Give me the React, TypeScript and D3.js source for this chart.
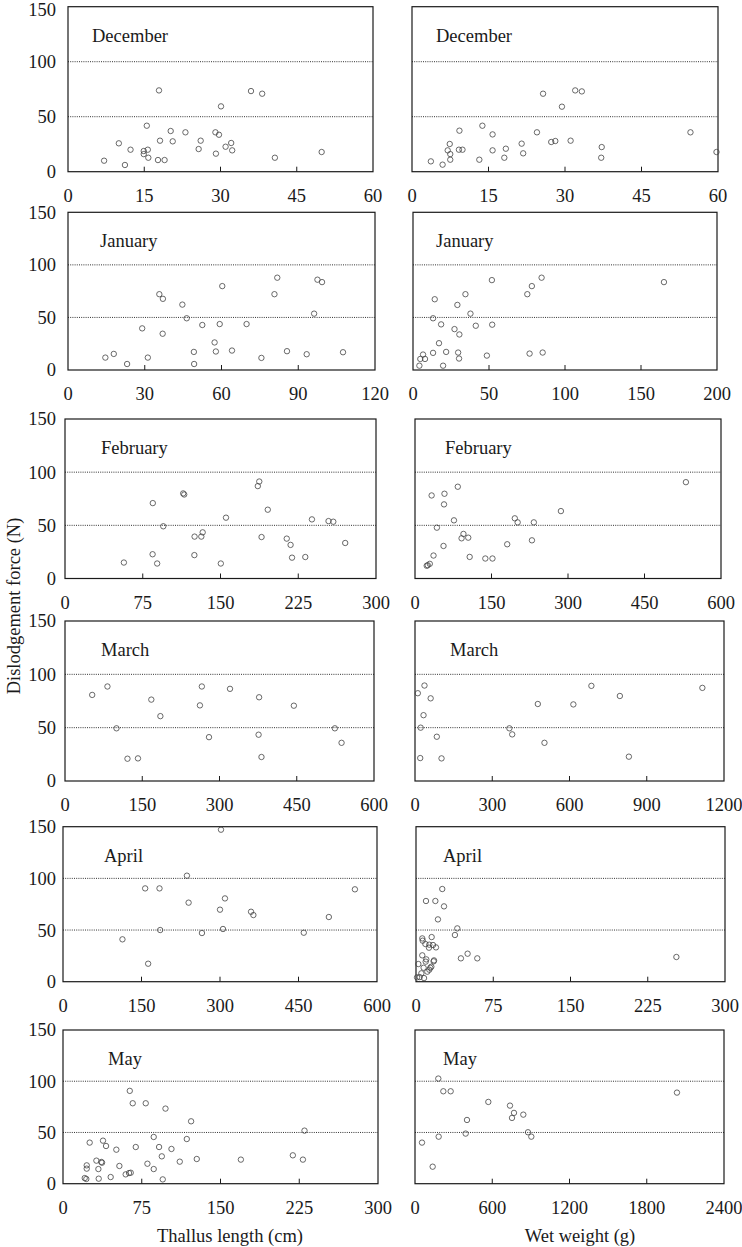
import * as d3 from 'd3';

type Pt = [number, number];

// ---- data (x value, dislodgement force N) ----
const decLength: Pt[] = [
  [7.1, 10], [10, 25.8], [11.2, 6.1], [12.3, 20], [14.9, 18.8], [14.9, 16], [15.5, 41.8],
  [15.7, 20], [15.8, 12.7], [17.7, 10.6], [17.9, 73.9], [18.1, 28.2], [19, 10.6], [20.2, 37],
  [20.6, 27.6], [23.1, 35.8], [25.7, 20.6], [26.1, 28.2], [29, 35.8], [29.1, 16.4], [29.7, 33.6],
  [30.1, 59.4], [31, 22.7], [32.1, 26.1], [32.3, 19.4], [36, 73.3], [38.2, 70.9], [40.7, 12.7],
  [49.9, 17.9],
];
const decWeight: Pt[] = [
  [3.7, 9.4], [6, 6.4], [7, 19.4], [7.4, 25.2], [7.5, 16], [7.5, 10.9], [9.3, 37.3], [9.2, 20],
  [9.9, 20], [13.2, 10.9], [13.8, 41.8], [15.8, 33.9], [15.8, 19.4], [18.1, 12.7], [18.4, 20.9],
  [21.5, 25.5], [21.8, 16.7], [24.5, 35.8], [25.7, 70.9], [27.3, 27], [28.1, 27.9], [29.4, 59.1],
  [31.1, 28.2], [32, 73.9], [33.3, 73], [37.2, 22.4], [37.1, 12.7], [54.6, 35.8], [59.7, 17.9],
];
const janLength: Pt[] = [
  [14.6, 11.8], [17.9, 15.3], [23.1, 5.7], [29, 39.6], [31.2, 11.8], [35.7, 72.1], [37.1, 67.7],
  [37, 34.5], [44.7, 62.2], [46.4, 49.2], [49.2, 17.2], [49.3, 5.7], [52.5, 42.8], [57.3, 26.2],
  [57.8, 17.6], [59.3, 43.7], [60.3, 79.8], [64.1, 18.5], [69.8, 43.7], [75.6, 11.5], [80.7, 72.1],
  [81.8, 87.8], [85.6, 17.9], [93.3, 15], [96.2, 53.6], [97.5, 85.9], [99.3, 83.6], [107.5, 16.9],
];
const janWeight: Pt[] = [
  [4.2, 4.1], [4.8, 10.5], [6.6, 14.7], [7.9, 10.5], [13.2, 16.3], [13.2, 49.2], [14.3, 67.3],
  [17.1, 25.5], [18.5, 43.4], [19.8, 4.1], [21.8, 17.2], [27.3, 38.9], [29.2, 61.9], [29.7, 16.6],
  [30.5, 33.8], [30.3, 10.9], [34.5, 72.1], [37.8, 53.6], [41.3, 42.1], [48.6, 13.7], [51.9, 85.5],
  [52.1, 43.1], [75.2, 72.1], [76.7, 15.6], [78.2, 79.8], [84.6, 87.8], [85.3, 16.6], [165.1, 83.6],
];
const febLength: Pt[] = [
  [56.8, 15], [84.7, 70.9], [84.5, 22.8], [88.9, 14.1], [94.8, 49.1], [114, 80], [115, 79],
  [124.8, 22], [125, 39.4], [131.5, 39.4], [132.8, 43.4], [150.3, 14.1], [155.3, 57.2], [186, 86.9],
  [187.4, 91.2], [189.6, 39], [195.6, 64.7], [213.9, 37.5], [217.6, 31.6], [219, 19.6],
  [231.8, 20.2], [238.2, 55.6], [254.2, 54], [258.8, 53.4], [270.3, 33.4],
];
const febWeight: Pt[] = [
  [23, 12], [25, 12.5], [29, 13.8], [32.6, 78.1], [36.3, 21.6], [42.9, 47.8], [55.9, 30.6],
  [56.9, 69.7], [57.8, 79.7], [76.4, 54.7], [83.9, 86.3], [91.3, 37.8], [95, 41.9], [104.4, 38.4],
  [107.2, 20.3], [137.9, 18.8], [151.9, 18.8], [180.8, 32.2], [195.7, 56.6], [201.3, 52.8],
  [229.3, 35.9], [233, 52.8], [286.1, 63.4], [531.2, 90.6],
];
const marLength: Pt[] = [
  [52.8, 80.7], [82.4, 88.6], [100, 49.4], [121.3, 20.9], [141.7, 21.2], [167.6, 76.3],
  [185.2, 60.8], [262, 70.9], [265.7, 88.6], [279.6, 41.1], [320.4, 86.4], [375.9, 43.4],
  [376.9, 78.5], [381.5, 22.5], [444.4, 70.6], [524, 49.4], [537, 35.8],
];
const marWeight: Pt[] = [
  [11, 82.3], [20.3, 21.5], [22, 50], [33.1, 61.7], [36.8, 89.5], [60.8, 77.5], [84.7, 41.5],
  [103, 21.2], [366.5, 49.4], [377.5, 43.7], [477, 72.2], [502.8, 35.8], [615, 71.8],
  [685, 89.2], [795.6, 79.7], [830.6, 22.8], [1116, 87.3],
];
const aprLength: Pt[] = [
  [113.6, 41], [157, 90.3], [162.7, 17.4], [184.4, 90.3], [185.7, 50], [236.8, 102.6],
  [240, 76.5], [265.5, 47.1], [300, 69.7], [301.9, 147.1], [305.7, 51], [309.5, 80.6],
  [359.3, 67.7], [363.8, 64.5], [460.1, 47.4], [508, 62.6], [557.8, 89.4],
];
const aprWeight: Pt[] = [
  [25.5, 89.7], [9.7, 78.1], [18.8, 78.1], [27.2, 72.9], [21.3, 60.3], [40.1, 51.6], [37.8, 45.2],
  [15.2, 43.2], [6.1, 41.9], [6.5, 39.7], [9.1, 36.5], [12.9, 35.8], [16.5, 35.5], [19.4, 33.2],
  [12.6, 32.9], [43.6, 22.6], [50.1, 27.1], [59.5, 22.6], [252.8, 23.9], [6.1, 25.5], [10, 21.6],
  [9.4, 19.4], [17.5, 20.6], [17.1, 19.7], [2.3, 17.1], [7.4, 13.5], [13.9, 13.5], [14.9, 14.5],
  [11, 9.7], [5.2, 8.1], [1, 4.2], [3.6, 4.5], [7.8, 3.5], [12.9, 11.6],
];
const mayLength: Pt[] = [
  [63.6, 90.6], [66.4, 78.5], [78.8, 78.5], [97.6, 73.3], [122, 60.9], [230, 51.8], [25.4, 40.1],
  [38.1, 42], [41, 36.8], [50.8, 33.2], [69.3, 35.8], [86.4, 45.6], [91.5, 35.8], [103.3, 33.9],
  [117.9, 43.6], [94.1, 26.7], [111.2, 21.5], [127.4, 24.1], [169.4, 23.5], [218.9, 27.7],
  [228.5, 23.5], [31.8, 22.5], [36.5, 21.2], [37.2, 20.5], [22.6, 17.9], [22.6, 14.7],
  [33.7, 14.3], [53.7, 17.3], [80.4, 19.5], [86.4, 14.3], [59.7, 9.1], [62.9, 10.4], [64.5, 10.7],
  [45.4, 6.5], [20.7, 5.5], [22.2, 4.6], [34, 4.9], [95, 4.2],
];
const mayWeight: Pt[] = [
  [181, 102.6], [220, 90.2], [277, 90.2], [569.5, 79.8], [737.8, 76.2], [768.8, 69.1],
  [753.3, 64.2], [841.3, 67.4], [403.8, 62.2], [183.8, 45.9], [393.5, 48.9], [877.6, 50.2],
  [903.4, 45.9], [54.4, 40.1], [137.2, 16.6], [2034.7, 88.9],
];

const months = ['December', 'January', 'February', 'March', 'April', 'May'];
const lengthData = [decLength, janLength, febLength, marLength, aprLength, mayLength];
const weightData = [decWeight, janWeight, febWeight, marWeight, aprWeight, mayWeight];
const lengthTicks = [
  [0, 15, 30, 45, 60], [0, 30, 60, 90, 120], [0, 75, 150, 225, 300],
  [0, 150, 300, 450, 600], [0, 150, 300, 450, 600], [0, 75, 150, 225, 300],
];
const weightTicks = [
  [0, 15, 30, 45, 60], [0, 50, 100, 150, 200], [0, 150, 300, 450, 600],
  [0, 300, 600, 900, 1200], [0, 75, 150, 225, 300], [0, 600, 1200, 1800, 2400],
];
const forceTicks = [0, 50, 100, 150];
const gridValues = [50, 100];

// ---- layout (pixels) ----
const rowTop = [6.7, 212.3, 419, 621, 826.7, 1030];
const rowBottom = [171.7, 370, 578.5, 781, 981.7, 1183.7];
const leftX = [[68, 373], [68, 375], [65, 376], [65, 374], [63, 377], [63, 378]];
const rightX = [[412, 718], [413, 717], [415, 721], [415, 724], [416, 725], [415, 724]];
const labelLeftX = [92, 100, 101, 101, 104, 108];
const labelRightX = [436, 436, 445, 450, 443, 443];

const font = '"Liberation Serif", "Times New Roman", serif';
const ink = '#1a1a1a';

interface PanelProps {
  x0: number; x1: number; top: number; bottom: number;
  ticks: number[]; data: Pt[]; label: string; labelX: number; showY: boolean;
}

function Panel({ x0, x1, top, bottom, ticks, data, label, labelX, showY }: PanelProps) {
  const xMax = ticks[ticks.length - 1];
  const x = d3.scaleLinear().domain([0, xMax]).range([x0, x1]);
  const y = d3.scaleLinear().domain([0, 150]).range([bottom, top]);
  return (
    <g>
      {gridValues.map(v => (
        <line key={v} x1={x0} x2={x1} y1={y(v)} y2={y(v)}
          stroke="#333" strokeWidth={1} strokeDasharray="1,1.2" />
      ))}
      <rect x={x0} y={top} width={x1 - x0} height={bottom - top}
        fill="none" stroke={ink} strokeWidth={1.2} />
      {ticks.slice(1, -1).map(t => (
        <line key={t} x1={x(t)} x2={x(t)} y1={bottom} y2={bottom - 5}
          stroke={ink} strokeWidth={1} />
      ))}
      {ticks.map(t => (
        <text key={t} x={x(t)} y={bottom + 30} textAnchor="middle"
          fontFamily={font} fontSize={18.5} fill={ink}>{t}</text>
      ))}
      {showY && forceTicks.map(t => (
        <text key={t} x={56} y={Math.max(y(t), 10)} dy="0.35em" textAnchor="end"
          fontFamily={font} fontSize={18.5} fill={ink}>{t}</text>
      ))}
      <text x={labelX} y={top + 35} fontFamily={font} fontSize={18.5} fill={ink}>{label}</text>
      {data.map((d, i) => (
        <circle key={i} cx={x(d[0])} cy={y(d[1])} r={2.7}
          fill="none" stroke="#444" strokeWidth={0.8} />
      ))}
    </g>
  );
}

export default function App() {
  return (
    <svg width={742} height={1247} style={{ position: 'absolute', left: 0, top: 0, background: '#fff' }}>
      <rect width={742} height={1247} fill="#fff" />
      {months.map((m, i) => (
        <g key={m}>
          <Panel x0={leftX[i][0]} x1={leftX[i][1]} top={rowTop[i]} bottom={rowBottom[i]}
            ticks={lengthTicks[i]} data={lengthData[i]} label={m} labelX={labelLeftX[i]} showY />
          <Panel x0={rightX[i][0]} x1={rightX[i][1]} top={rowTop[i]} bottom={rowBottom[i]}
            ticks={weightTicks[i]} data={weightData[i]} label={m} labelX={labelRightX[i]} showY={false} />
        </g>
      ))}
      <text x={230} y={1242} textAnchor="middle" fontFamily={font} fontSize={18.5} fill={ink}>
        Thallus length (cm)
      </text>
      <text x={580} y={1242} textAnchor="middle" fontFamily={font} fontSize={18.5} fill={ink}>
        Wet weight (g)
      </text>
      <text transform="translate(20,606) rotate(-90)" textAnchor="middle"
        fontFamily={font} fontSize={18.5} fill={ink}>
        Dislodgement force (N)
      </text>
    </svg>
  );
}
